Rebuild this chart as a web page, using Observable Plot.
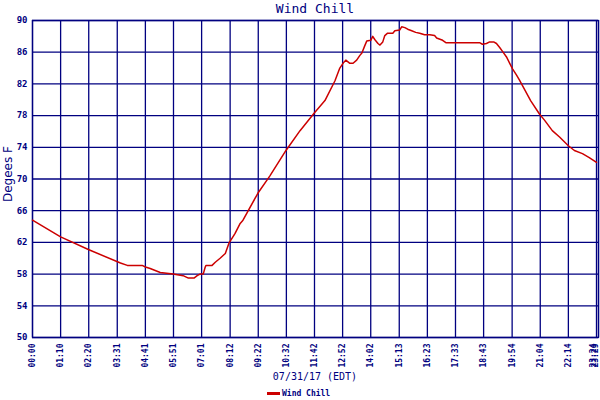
<!DOCTYPE html>
<html><head><meta charset="utf-8">
<script src="https://cdn.jsdelivr.net/npm/d3@7"></script>
<script src="https://cdn.jsdelivr.net/npm/@observablehq/plot@0.6"></script>
<style>
body{margin:0;background:#fff;}
#wrap{position:relative;width:600px;height:400px;overflow:hidden;font-family:"DejaVu Sans Mono",monospace;color:#000080;}
.abs{position:absolute;white-space:nowrap;}
</style></head><body><div id="wrap"></div>
<script>
const title = "Wind Chill";
const yLabel = "Degees F";
const xLabel = "07/31/17 (EDT)";
const seriesName = "Wind Chill";

const times = ["00:00","01:10","02:19","03:39","03:56","04:33","04:41","04:53","05:18","05:50","06:15","06:28","06:42","06:50","06:57","07:05","07:10","07:12","07:27","07:35","07:47","08:00","08:09","08:24","08:37","08:44","09:21","09:51","10:31","11:06","11:41","12:08","12:33","12:45","12:53","13:00","13:10","13:18","13:27","13:35","13:40","13:47","13:52","14:02","14:07","14:12","14:20","14:25","14:32","14:37","14:44","14:57","15:02","15:14","15:19","15:27","15:34","15:44","15:54","16:04","16:16","16:29","16:41","16:46","17:01","17:09","18:33","18:40","18:50","18:58","19:08","19:15","19:23","19:30","19:40","19:48","19:55","20:05","20:12","20:40","21:02","21:15","21:34","21:52","22:14","22:29","22:49","23:06","23:24"];
const windChill = [64.8,62.7,61.1,59.4,59.1,59.1,58.9,58.7,58.2,58.0,57.8,57.5,57.5,57.8,58.0,58.0,58.9,59.1,59.1,59.5,60.0,60.6,61.9,63.1,64.4,64.8,68.2,70.4,73.6,76.1,78.3,79.9,82.4,84.0,84.6,85.0,84.6,84.6,85.0,85.6,85.9,86.8,87.4,87.5,88.0,87.6,87.1,86.9,87.3,88.1,88.4,88.4,88.7,88.8,89.2,89.1,88.9,88.7,88.5,88.4,88.2,88.2,88.1,87.8,87.5,87.2,87.2,87.0,87.1,87.3,87.3,87.1,86.6,86.1,85.4,84.6,83.9,83.1,82.5,79.9,78.2,77.4,76.1,75.3,74.2,73.6,73.2,72.7,72.1];

const xTickLabels = ["00:00","01:10","02:20","03:31","04:41","05:51","07:01","08:12","09:22","10:32","11:42","12:52","14:02","15:13","16:23","17:33","18:43","19:54","21:04","22:14","23:24","23:29"];
const yTicks = [50,54,58,62,66,70,74,78,82,86,90];
const xDomain = ["00:00","23:29"];

const toMin = s => { const [h,m] = s.split(":").map(Number); return h*60+m; };
const data = times.map((t,i)=>({t: toMin(t), v: windChill[i]}));
const tickMins = xTickLabels.map(toMin);
const labelOf = new Map(tickMins.map((m,i)=>[m, xTickLabels[i]]));
const mainTicks = tickMins.slice(0, -2);
const edgeTicks = tickMins.slice(-2);

const navy = "#000080";
const axisOpts = {tickRotate: -90, tickSize: 0, tickPadding: 6, tickFormat: d => labelOf.get(d), fontSize: 8, fontWeight: "bold", fill: navy, label: null};
const chart = Plot.plot({
  width: 600, height: 400,
  marginTop: 20, marginBottom: 63, marginLeft: 32, marginRight: 2,
  style: {fontFamily: "'DejaVu Sans Mono', monospace", background: "white", color: navy},
  x: {domain: xDomain.map(toMin)},
  y: {domain: [50, 90]},
  marks: [
    Plot.gridX(tickMins, {stroke: navy, strokeOpacity: 1, strokeWidth: 1.3}),
    Plot.gridY(yTicks, {stroke: navy, strokeOpacity: 1, strokeWidth: 1.3}),
    Plot.frame({stroke: navy, strokeWidth: 1.3}),
    Plot.line(data, {x: "t", y: "v", stroke: "#cc0000", strokeWidth: 1.5}),
    Plot.axisX(mainTicks, axisOpts),
    Plot.axisX(edgeTicks, {...axisOpts, dx: -3}),
    Plot.axisY(yTicks, {tickSize: 0, tickPadding: 5, fontSize: 9, fontWeight: "bold", fill: navy, label: null})
  ]
});
const wrap = document.getElementById("wrap");
chart.style.position = "absolute"; chart.style.left = "0"; chart.style.top = "0";
wrap.appendChild(chart);

function addDiv(text, css){ const d = document.createElement("div"); d.className="abs"; d.textContent=text; Object.assign(d.style, css); wrap.appendChild(d); return d; }
addDiv(title, {left:"0", width:"630px", textAlign:"center", top:"1px", fontSize:"13px", lineHeight:"15px"});
addDiv(xLabel, {left:"0", width:"630px", textAlign:"center", top:"371px", fontSize:"10px", lineHeight:"12px"});
addDiv(yLabel, {left:"-22px", top:"167px", width:"60px", textAlign:"center", fontSize:"12px", lineHeight:"14px", fontFamily:"'DejaVu Sans', sans-serif", transform:"rotate(-90deg)"});
const leg = document.createElement("div"); leg.className="abs";
Object.assign(leg.style, {left:"267px", top:"389px", fontSize:"8px", lineHeight:"10px", fontWeight:"bold"});
leg.innerHTML = '<span style="display:inline-block;width:13px;height:3px;background:#cc0000;vertical-align:middle;margin-right:2px"></span>';
leg.appendChild(document.createTextNode(seriesName));
wrap.appendChild(leg);
</script></body></html>
